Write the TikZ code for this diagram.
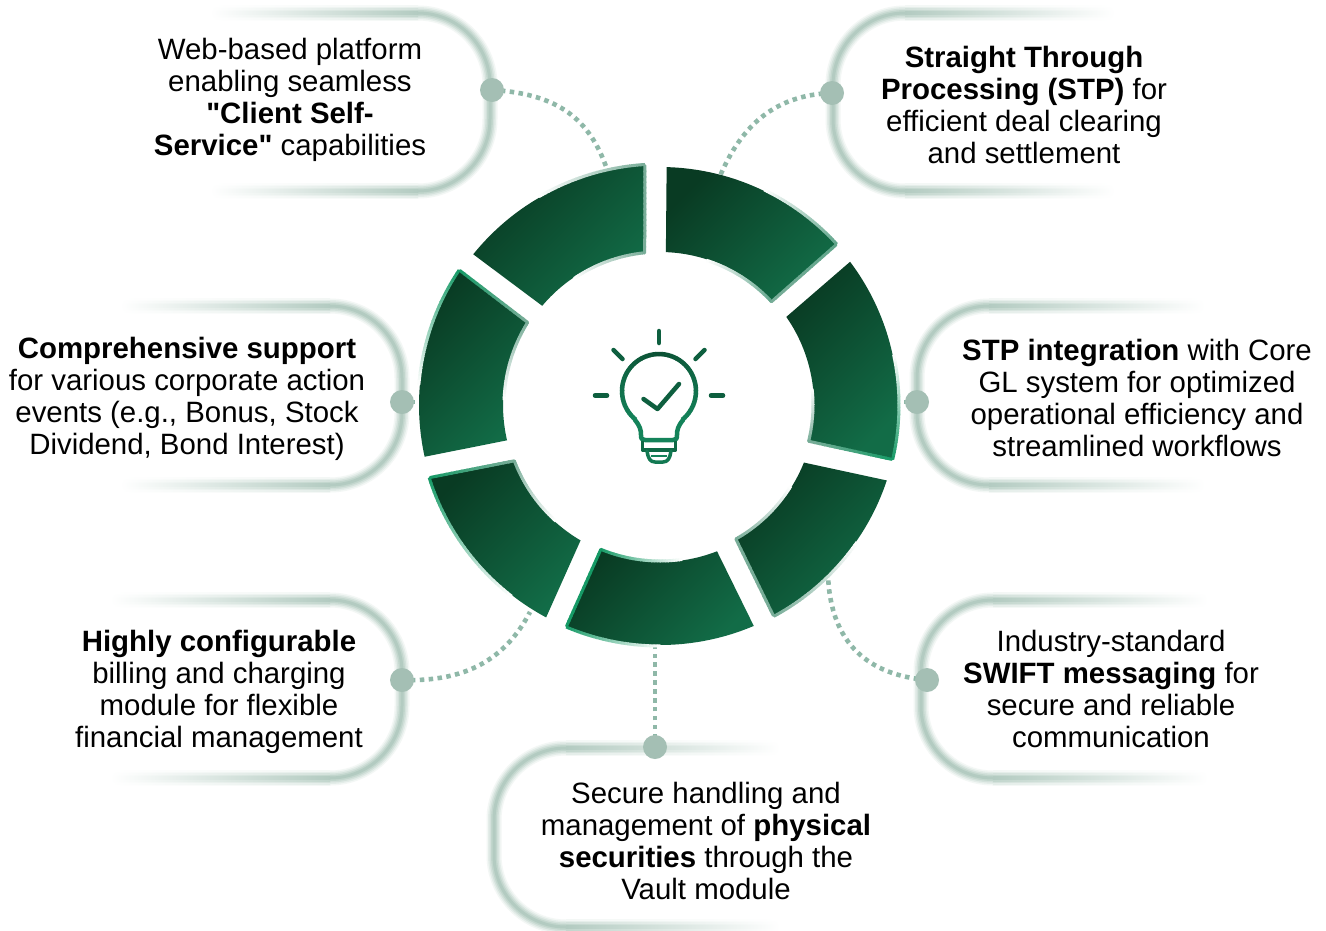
\documentclass[tikz,border=0pt]{standalone}
\usepackage{fontspec}
\newfontfamily\mainf{Liberation Sans}
\usetikzlibrary{calc}
\definecolor{dk}{HTML}{093B23}
\definecolor{lt}{HTML}{126C47}
\definecolor{bright}{HTML}{169A66}
\definecolor{mid}{HTML}{5FA58A}
\definecolor{soft}{HTML}{78AD98}
\definecolor{pa}{HTML}{F3F7F5}
\definecolor{pb}{HTML}{E4EDE9}
\definecolor{pc}{HTML}{D3E1DB}
\definecolor{pd}{HTML}{C2D6CD}
\definecolor{pe}{HTML}{B3CBC1}
\definecolor{dotc}{HTML}{A4BFB4}
\definecolor{connc}{HTML}{8FB8A8}
\definecolor{iconA}{HTML}{0B4F33}
\definecolor{iconB}{HTML}{14835A}
\tikzset{
  txt/.style={align=center,inner sep=0pt,text=black,font=\mainf\fontsize{29.4}{32}\selectfont},
  dotn/.style={circle,fill=dotc,minimum size=24pt,inner sep=0pt},
  conn/.style={color=connc,line width=4.6pt,dash pattern=on 4.5pt off 4.4pt},
  seg/.style={left color=dk,right color=lt,shading angle=45},
  edge/.style={line width=3pt},
  ray/.style={line width=4.5pt,line cap=round,color=iconA!70!iconB}
}
\newcommand{\pillbase}[6]{%
  \pgfmathsetmacro\xa{#1+#5}%
  \foreach \w/\c in {15/pa,12/pb,9/pc,6/pd,3/pe}{%
    \draw[line width=\w pt,color=\c,rounded corners=72pt] (\xa,#2) -- (#1,#2) -- (#1,#3) -- (\xa,#3);
    \shade[#6] (\xa,{#2-\w/2}) rectangle (#4,{#2+\w/2});
    \shade[#6] (\xa,{#3-\w/2}) rectangle (#4,{#3+\w/2});
  }}
\newcommand{\pillright}[4]{\pillbase{#1}{#2}{#3}{#4}{72}{left color=\c,right color=white}}
\newcommand{\pillleft}[4]{\pillbase{#1}{#2}{#3}{#4}{-72}{left color=white,right color=\c}}
\newcommand{\ringseg}[6]{\shade[seg] plot[domain=#1:#2,samples=40] (\x:#3) -- plot[domain=#4:#5,samples=30] (\x:#6) -- cycle;}
\newcommand{\arcfade}[5]{\foreach \i in {1,...,30}{%
  \pgfmathsetmacro\pa{#2+(#3-#2)*(\i-1)/30}%
  \pgfmathsetmacro\pb{#2+(#3-#2)*(\i+0.2)/30}%
  \pgfmathsetmacro\pq{100-100*(\i-0.5)/30}%
  \draw[edge,color=#4!\pq!#5] (\pa:#1) -- (\pb:#1);}}
\newcommand{\linefade}[4]{\foreach \i in {1,...,16}{%
  \pgfmathsetmacro\ta{(\i-1)/16}%
  \pgfmathsetmacro\tb{(\i+0.2)/16}%
  \pgfmathsetmacro\pq{100-100*(\i-0.5)/16}%
  \draw[edge,line cap=round,color=#3!\pq!#4] ($(#1)!\ta!(#2)$) -- ($(#1)!\tb!(#2)$);}}
\begin{document}
\begin{tikzpicture}[x=1pt,y=-1pt]
\useasboundingbox (0,0) rectangle (1326,930);
\fill[white] (0,0) rectangle (1326,930);
\pillleft{490}{13}{191}{210}
\pillright{833}{13}{191}{1115}
\pillleft{402}{306}{485}{120}
\pillright{917}{306}{485}{1205}
\pillleft{402}{600}{778}{110}
\pillright{921}{600}{778}{1208}
\pillright{494}{748}{927}{780}
\coordinate (p1) at (492,90);
\coordinate (p2) at (832,93);
\coordinate (p3) at (402,402);
\coordinate (p4) at (917,402);
\coordinate (p5) at (402,680);
\coordinate (p6) at (927,680);
\coordinate (p7) at (655,747);
\coordinate (e1) at (608,172);
\coordinate (e2) at (720,176);
\coordinate (e3) at (424,402);
\coordinate (e4) at (896,402);
\coordinate (e5) at (530,612);
\coordinate (e6) at (828,574);
\coordinate (e7) at (655,640);
\draw[conn] (p1) .. controls (565,94) and (592,125) .. (e1);
\draw[conn] (p2) .. controls (775,95) and (742,125) .. (e2);
\draw[conn] (p3) -- (e3);
\draw[conn] (p4) -- (e4);
\draw[conn] (p5) .. controls (465,682) and (505,660) .. (e5);
\draw[conn] (p6) .. controls (870,675) and (830,645) .. (e6);
\draw[conn] (p7) -- (e7);
\node[dotn] (d1) at (p1) {};
\node[dotn] (d2) at (p2) {};
\node[dotn] (d3) at (p3) {};
\node[dotn] (d4) at (p4) {};
\node[dotn] (d5) at (p5) {};
\node[dotn] (d6) at (p6) {};
\node[dotn] (d7) at (p7) {};
\begin{scope}[shift={(660,405)}]
\ringseg{-88.4}{-42.3}{238}{-42.8}{-87.8}{153}
\ringseg{-37}{13.2}{238}{13.7}{-34.9}{154}
\ringseg{18.4}{61.7}{239}{60.5}{21.8}{155}
\ringseg{67}{112.9}{240}{112.3}{68.7}{157}
\ringseg{118.2}{162.5}{241}{159.1}{120.4}{157}
\ringseg{167.6}{213.9}{241}{212}{167}{157}
\ringseg{218.9}{266.4}{240}{264.3}{220.1}{154}
\arcfade{239}{-42.3}{-64}{mid}{white}
\arcfade{152}{-42.8}{-72}{mid}{white}
\linefade{-42.3:238}{-42.8:153}{mid}{soft}
\arcfade{239}{13.2}{-12}{bright}{white}
\arcfade{153}{13.7}{-6}{soft}{white}
\linefade{13.2:238}{13.7:154}{bright}{soft}
\arcfade{240}{61.7}{35}{soft}{white}
\arcfade{154}{60.5}{32}{soft}{white}
\linefade{61.7:239}{60.5:155}{soft}{soft}
\arcfade{241}{112.9}{90}{bright}{white}
\arcfade{156}{112.3}{82}{bright}{white}
\linefade{112.9:240}{112.3:157}{bright}{bright}
\arcfade{242}{162.5}{128}{bright}{white}
\arcfade{156}{159.1}{132}{soft}{white}
\linefade{162.5:241}{159.1:157}{bright}{soft}
\arcfade{242}{213.9}{185}{bright}{white}
\arcfade{156}{212}{182}{soft}{white}
\linefade{213.9:241}{212:157}{bright}{soft}
\arcfade{241}{266.4}{240}{soft}{white}
\arcfade{153}{264.3}{236}{soft}{white}
\linefade{266.4:240}{264.3:154}{soft}{soft}
\end{scope}
\begin{scope}[shift={(659,391)},edge/.style={line width=4.5pt}]
\arcfade{37}{-90}{50}{iconA}{iconB}
\arcfade{37}{-90}{-230}{iconA}{iconB}
\end{scope}
\draw[line width=4.5pt,color=iconB,line join=round,line cap=round]
  (683,420) .. controls (678,426) and (677,430) .. (677,435) .. controls (677,439) and (676,440) .. (673,440)
  -- (645,440) .. controls (642,440) and (641,439) .. (641,435) .. controls (641,430) and (640,426) .. (635,420);
\draw[line width=3.5pt,color=iconA!50!iconB,line join=round]
  (642.5,441) -- (642.5,450) -- (675.5,450) -- (675.5,441);
\draw[line width=3.5pt,color=iconB!80!iconA,line join=round,line cap=round]
  (647,451) .. controls (648,458) and (650,462) .. (655,462) -- (663,462) .. controls (668,462) and (670,458) .. (671,451);
\draw[line width=2.5pt,color=iconB] (651,456) -- (667,456);
\draw[ray] (659,331) -- (659,343);
\draw[ray] (613.5,350) -- (622.5,359);
\draw[ray] (704.5,350) -- (695.5,359);
\draw[ray] (595,395.5) -- (607,395.5);
\draw[ray] (711,395.5) -- (723,395.5);
\draw[ray,line join=round] (643.5,399) -- (657.5,409) -- (679,384);
\node[txt] (t1) at (290,99.7) {Web-based platform\\enabling seamless\\\textbf{"Client Self-}\\\textbf{Service"} capabilities};
\node[txt] (t2) at (1024,105) {\textbf{Straight Through}\\\textbf{Processing (STP)} for\\efficient deal clearing\\and settlement};
\node[txt] (t3) at (187,398.7) {\textbf{Comprehensive support}\\for various corporate action\\events (e.g., Bonus, Stock\\Dividend, Bond Interest)};
\node[txt] (t4) at (1137,398) {\textbf{STP integration} with Core\\GL system for optimized\\operational efficiency and\\streamlined workflows};
\node[txt] (t5) at (219,691.7) {\textbf{Highly configurable}\\billing and charging\\module for flexible\\financial management};
\node[txt] (t6) at (1111,689) {Industry-standard\\\textbf{SWIFT messaging} for\\secure and reliable\\communication};
\node[txt] (t7) at (706,841) {Secure handling and\\management of \textbf{physical}\\\textbf{securities} through the\\Vault module};
\end{tikzpicture}
\end{document}
